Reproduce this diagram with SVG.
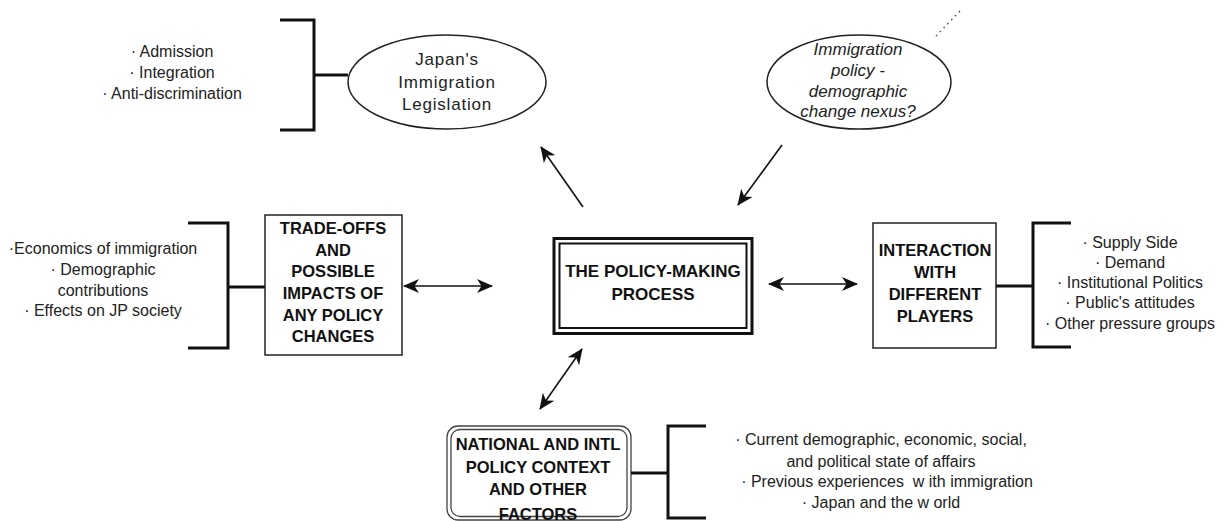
<svg xmlns="http://www.w3.org/2000/svg" width="1223" height="521" viewBox="0 0 1223 521">
<style>
.t{font-family:"Liberation Sans",Arial,sans-serif;font-size:16px;fill:#222;text-anchor:middle}
.e{font-family:"Liberation Sans",Arial,sans-serif;font-size:17px;fill:#222;text-anchor:middle}
.i{font-style:italic;font-size:17px}
.b{font-family:"Liberation Sans",Arial,sans-serif;font-size:16.5px;font-weight:bold;fill:#111;text-anchor:middle}
.bc{font-size:17px}
.br{fill:none;stroke:#111;stroke-width:3}
.box{fill:#fff;stroke:#222;stroke-width:1.5}
.ell{fill:#fff;stroke:#222;stroke-width:1.5}
.ar{fill:none;stroke:#111;stroke-width:1.6}
</style>
<defs>
<marker id="ah" viewBox="0 0 16 16" refX="15" refY="8" markerWidth="16" markerHeight="16" markerUnits="userSpaceOnUse" orient="auto-start-reverse">
<path d="M0,1 L16,8 L0,15 L4.5,8 z" fill="#111"/>
</marker>
</defs>
<rect width="1223" height="521" fill="#fff"/>

<g id="connectors">
<path class="ar" d="M583,207 L541,147" marker-end="url(#ah)"/>
<path class="ar" d="M782,145 L738,205" marker-end="url(#ah)"/>
<path class="ar" d="M404,286 L492,286" marker-start="url(#ah)" marker-end="url(#ah)"/>
<path class="ar" d="M769,284 L857,284" marker-start="url(#ah)" marker-end="url(#ah)"/>
<path class="ar" d="M540,409 L582,349" marker-start="url(#ah)" marker-end="url(#ah)"/>
<path d="M936,36 L961,10" fill="none" stroke="#555" stroke-width="1.5" stroke-dasharray="1.5 4"/>
</g>

<g id="legislation-list">
<path class="br" d="M280,20 H314 V130 H280 M314,75 H348"/>
<text class="t" x="172" y="57">· Admission</text>
<text class="t" x="172" y="78">· Integration</text>
<text class="t" x="172" y="99">· Anti-discrimination</text>
</g>

<g id="legislation">
<ellipse class="ell" cx="447" cy="82" rx="99" ry="47"/>
<text class="e" x="447" y="65" letter-spacing="0.8">Japan's</text>
<text class="e" x="447" y="88" letter-spacing="0.8">Immigration</text>
<text class="e" x="447" y="110" letter-spacing="0.8">Legislation</text>
</g>

<g id="nexus">
<ellipse class="ell" cx="859" cy="82" rx="92" ry="47"/>
<text class="e i" x="858" y="55">Immigration</text>
<text class="e i" x="858" y="76">policy -</text>
<text class="e i" x="858" y="97">demographic</text>
<text class="e i" x="858" y="117">change nexus?</text>
</g>

<g id="tradeoffs-list">
<path class="br" d="M188,223 H228 V348 H188 M228,287 H265"/>
<text class="t" x="103" y="254">·Economics of immigration</text>
<text class="t" x="103" y="275">· Demographic</text>
<text class="t" x="103" y="296">contributions</text>
<text class="t" x="103" y="316">· Effects on JP society</text>
</g>

<g id="tradeoffs">
<rect class="box" x="265" y="215" width="137" height="140"/>
<text class="b" x="333" y="234">TRADE-OFFS</text>
<text class="b" x="333" y="256">AND</text>
<text class="b" x="333" y="277">POSSIBLE</text>
<text class="b" x="333" y="299">IMPACTS OF</text>
<text class="b" x="333" y="321">ANY POLICY</text>
<text class="b" x="333" y="342">CHANGES</text>
</g>

<g id="policy-making">
<rect x="554" y="238.5" width="198" height="95" fill="#fff" stroke="#111" stroke-width="3"/>
<rect x="559.5" y="243.5" width="187" height="84.5" fill="none" stroke="#111" stroke-width="2"/>
<text class="b bc" x="653" y="277">THE POLICY-MAKING</text>
<text class="b bc" x="653" y="300">PROCESS</text>
</g>

<g id="players">
<rect class="box" x="873" y="223" width="123" height="125"/>
<text class="b" x="935" y="256">INTERACTION</text>
<text class="b" x="935" y="278">WITH</text>
<text class="b" x="935" y="300">DIFFERENT</text>
<text class="b" x="935" y="322">PLAYERS</text>
</g>

<g id="players-list">
<path class="br" d="M1071,223 H1033 V347 H1071 M996,286 H1033"/>
<text class="t" x="1130" y="248">· Supply Side</text>
<text class="t" x="1130" y="268">· Demand</text>
<text class="t" x="1130" y="288">· Institutional Politics</text>
<text class="t" x="1130" y="308">· Public's attitudes</text>
<text class="t" x="1130" y="329">· Other pressure groups</text>
</g>

<g id="context">
<rect x="447" y="426" width="184" height="94" rx="11" fill="#fff" stroke="#444" stroke-width="1.3"/>
<rect x="451" y="429.5" width="176" height="87" rx="9" fill="none" stroke="#444" stroke-width="1.3"/>
<text class="b" x="538" y="450">NATIONAL AND INTL</text>
<text class="b" x="538" y="473">POLICY CONTEXT</text>
<text class="b" x="538" y="495">AND OTHER</text>
<text class="b" x="538" y="520">FACTORS</text>
</g>

<g id="context-list">
<path class="br" d="M706,426 H668 V518 H706 M631,473 H668"/>
<text class="t" x="881" y="445">· Current demographic, economic, social,</text>
<text class="t" x="881" y="467">and political state of affairs</text>
<text class="t" x="887" y="487" xml:space="preserve">· Previous experiences  w ith immigration</text>
<text class="t" x="881" y="508">· Japan and the w orld</text>
</g>
</svg>
